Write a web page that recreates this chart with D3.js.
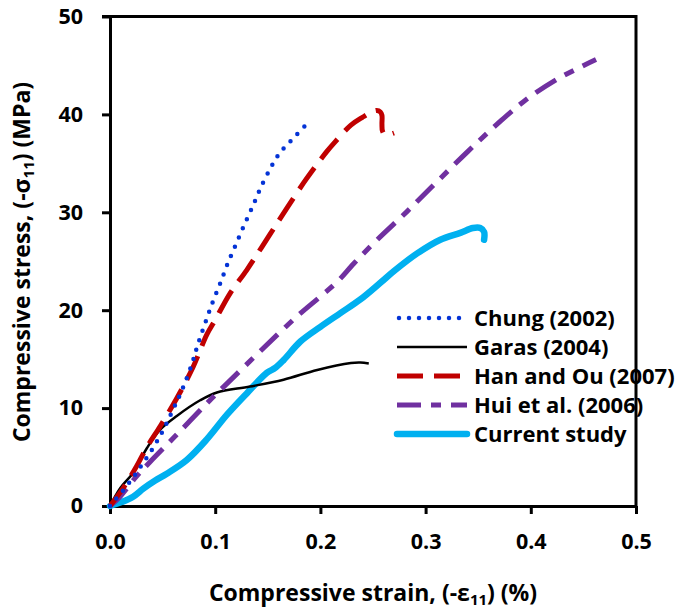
<!DOCTYPE html>
<html>
<head>
<meta charset="utf-8">
<script src="https://cdn.jsdelivr.net/npm/d3@7"></script>
<style>
  body { margin: 0; background: #fff; }
  text { font-family: "Open Sans", sans-serif; font-weight: bold; fill: #000; }
</style>
</head>
<body>
<svg id="chart" width="680" height="615"></svg>
<script>
// strain (%) / stress (MPa)
const chung = [[0, 0], [0.0184, 2.4], [0.030, 4.15], [0.0413, 6.0], [0.0508, 7.8], [0.0597, 9.8],
  [0.0683, 11.8], [0.0781, 14.6], [0.0835, 16.5], [0.0905, 18.7], [0.0975, 20.8], [0.105, 22.8],
  [0.112, 24.8], [0.12, 26.8], [0.128, 28.8], [0.136, 30.7], [0.144, 32.7], [0.153, 34.6],
  [0.1584, 35.6], [0.164, 36.4], [0.171, 37.2], [0.178, 38.0], [0.185, 38.8]];

const garas = [[0, 0], [0.0095, 1.8], [0.022, 3.4], [0.035, 5.9], [0.0476, 7.8], [0.0635, 9.2],
  [0.0857, 10.8], [0.1016, 11.6], [0.133, 12.2], [0.165, 12.9], [0.197, 13.9], [0.229, 14.6],
  [0.238, 14.65], [0.246, 14.55]];

const hanOu = [[0, 0], [0.013, 1.9], [0.025, 4.0], [0.035, 6.0], [0.048, 8.2], [0.0635, 11.0],
  [0.079, 14.2], [0.092, 17.5], [0.1, 19.0], [0.114, 21.7], [0.13, 24.1], [0.144, 26.4],
  [0.156, 28.4], [0.168, 30.4], [0.184, 33.0], [0.194, 34.5], [0.206, 36.2], [0.214, 37.2],
  [0.229, 38.9], [0.24, 39.7], [0.248, 40.2], [0.2535, 40.4], [0.257, 40.25], [0.2585, 39.9],
  [0.2585, 39.0], [0.259, 38.3], [0.2615, 37.9], [0.2655, 37.95], [0.27, 38.1]];

const hui = [[0, 0], [0.0095, 0.95], [0.025, 3.0], [0.038, 4.5], [0.0635, 7.3], [0.095, 10.8],
  [0.1016, 11.5], [0.176, 19.2], [0.2, 21.4], [0.216, 22.9], [0.232, 24.8], [0.254, 27.2],
  [0.2825, 30.1], [0.305, 32.5], [0.34, 36.2], [0.368, 39.0], [0.393, 41.3], [0.425, 43.6],
  [0.462, 45.6]];

const current = [[0, 0], [0.011, 0.4], [0.022, 0.95], [0.032, 1.8], [0.043, 2.6], [0.054, 3.3],
  [0.073, 4.7], [0.092, 6.8], [0.111, 9.3], [0.13, 11.5], [0.149, 13.6], [0.157, 14.1],
  [0.165, 14.9], [0.181, 16.8], [0.2, 18.3], [0.219, 19.7], [0.238, 21.1], [0.257, 22.8],
  [0.27, 24.0], [0.292, 25.8], [0.314, 27.2], [0.333, 27.9], [0.345, 28.4], [0.352, 28.4],
  [0.3556, 28.0], [0.3556, 27.2]];

const seriesNames = ["Chung (2002)", "Garas (2004)", "Han and Ou (2007)", "Hui et al. (2006)", "Current study"];
const xTicks = [0, 0.1, 0.2, 0.3, 0.4, 0.5];
const yTicks = [0, 10, 20, 30, 40, 50];

const styles = [
  { color: "#0433d6", width: 4.5, dash: "0,10", cap: "round" },
  { color: "#000000", width: 2.5, dash: null, cap: "butt" },
  { color: "#c00000", width: 5, dash: "26,11", cap: "butt" },
  { color: "#7030a0", width: 5, dash: "24,10,10,10", cap: "butt" },
  { color: "#00b0f0", width: 6.5, dash: null, cap: "round" }
];

const svg = d3.select("#chart");
const margin = { left: 110, right: 44, top: 16.5, bottom: 109 };
const width = 680 - margin.left - margin.right;
const height = 615 - margin.top - margin.bottom;

const x = d3.scaleLinear().domain([0, 0.5]).range([0, width]);
const y = d3.scaleLinear().domain([0, 50]).range([height, 0]);

const g = svg.append("g").attr("transform", "translate(" + margin.left + "," + margin.top + ")");

// frame on top and right
g.append("path")
  .attr("d", "M-8,0H" + width + "V" + height)
  .attr("fill", "none")
  .attr("stroke", "#000")
  .attr("stroke-width", 3);

const xAxis = g.append("g")
  .attr("transform", "translate(0," + height + ")")
  .call(d3.axisBottom(x).tickValues(xTicks).tickFormat(d3.format(".1f")).tickSizeInner(8).tickSizeOuter(0).tickPadding(20));

const yAxis = g.append("g")
  .call(d3.axisLeft(y).tickValues(yTicks).tickSizeInner(8).tickSizeOuter(0).tickPadding(19));

[xAxis, yAxis].forEach(a => {
  a.select(".domain").attr("stroke-width", 3);
  a.selectAll(".tick line").attr("stroke-width", 3);
  a.selectAll(".tick text").style("font-size", "21.5px").attr("font-family", null);
});

const line = d3.line().x(d => x(d[0])).y(d => y(d[1])).curve(d3.curveCatmullRom.alpha(0.5));
const allData = [chung, garas, hanOu, hui, current];

// draw order: current study first, then the others on top
const drawOrder = [4, 1, 3, 2, 0];
drawOrder.forEach(i => {
  const s = styles[i];
  g.append("path")
    .datum(allData[i])
    .attr("d", line)
    .attr("fill", "none")
    .attr("stroke", s.color)
    .attr("stroke-width", s.width)
    .attr("stroke-linecap", s.cap)
    .attr("stroke-linejoin", "round")
    .attr("stroke-dasharray", s.dash);
});

// legend
const legend = svg.append("g").attr("transform", "translate(397,318)");
seriesNames.forEach((name, i) => {
  const s = styles[i];
  const row = legend.append("g").attr("transform", "translate(0," + i * 29 + ")");
  row.append("line")
    .attr("x1", i === 0 ? 2 : 0).attr("x2", 70)
    .attr("stroke", s.color)
    .attr("stroke-width", s.width)
    .attr("stroke-linecap", s.cap)
    .attr("stroke-dasharray", s.dash);
  row.append("text")
    .attr("x", 77)
    .attr("dy", "0.36em")
    .style("font-size", "22px")
    .text(name);
});

// axis titles, subscripts shifted with dy
const xt = svg.append("text")
  .attr("x", 373)
  .attr("y", 601)
  .attr("text-anchor", "middle")
  .style("font-size", "23px");
xt.append("tspan").text("Compressive strain, (-\u03b5");
xt.append("tspan").attr("dy", 4).style("font-size", "15px").text("11");
xt.append("tspan").attr("dy", -4).text(") (%)");

const yt = svg.append("text")
  .attr("transform", "translate(30,262) rotate(-90)")
  .attr("text-anchor", "middle")
  .style("font-size", "23px");
yt.append("tspan").text("Compressive stress, (-\u03c3");
yt.append("tspan").attr("dy", 4).style("font-size", "15px").text("11");
yt.append("tspan").attr("dy", -4).text(") (MPa)");
</script>
</body>
</html>
